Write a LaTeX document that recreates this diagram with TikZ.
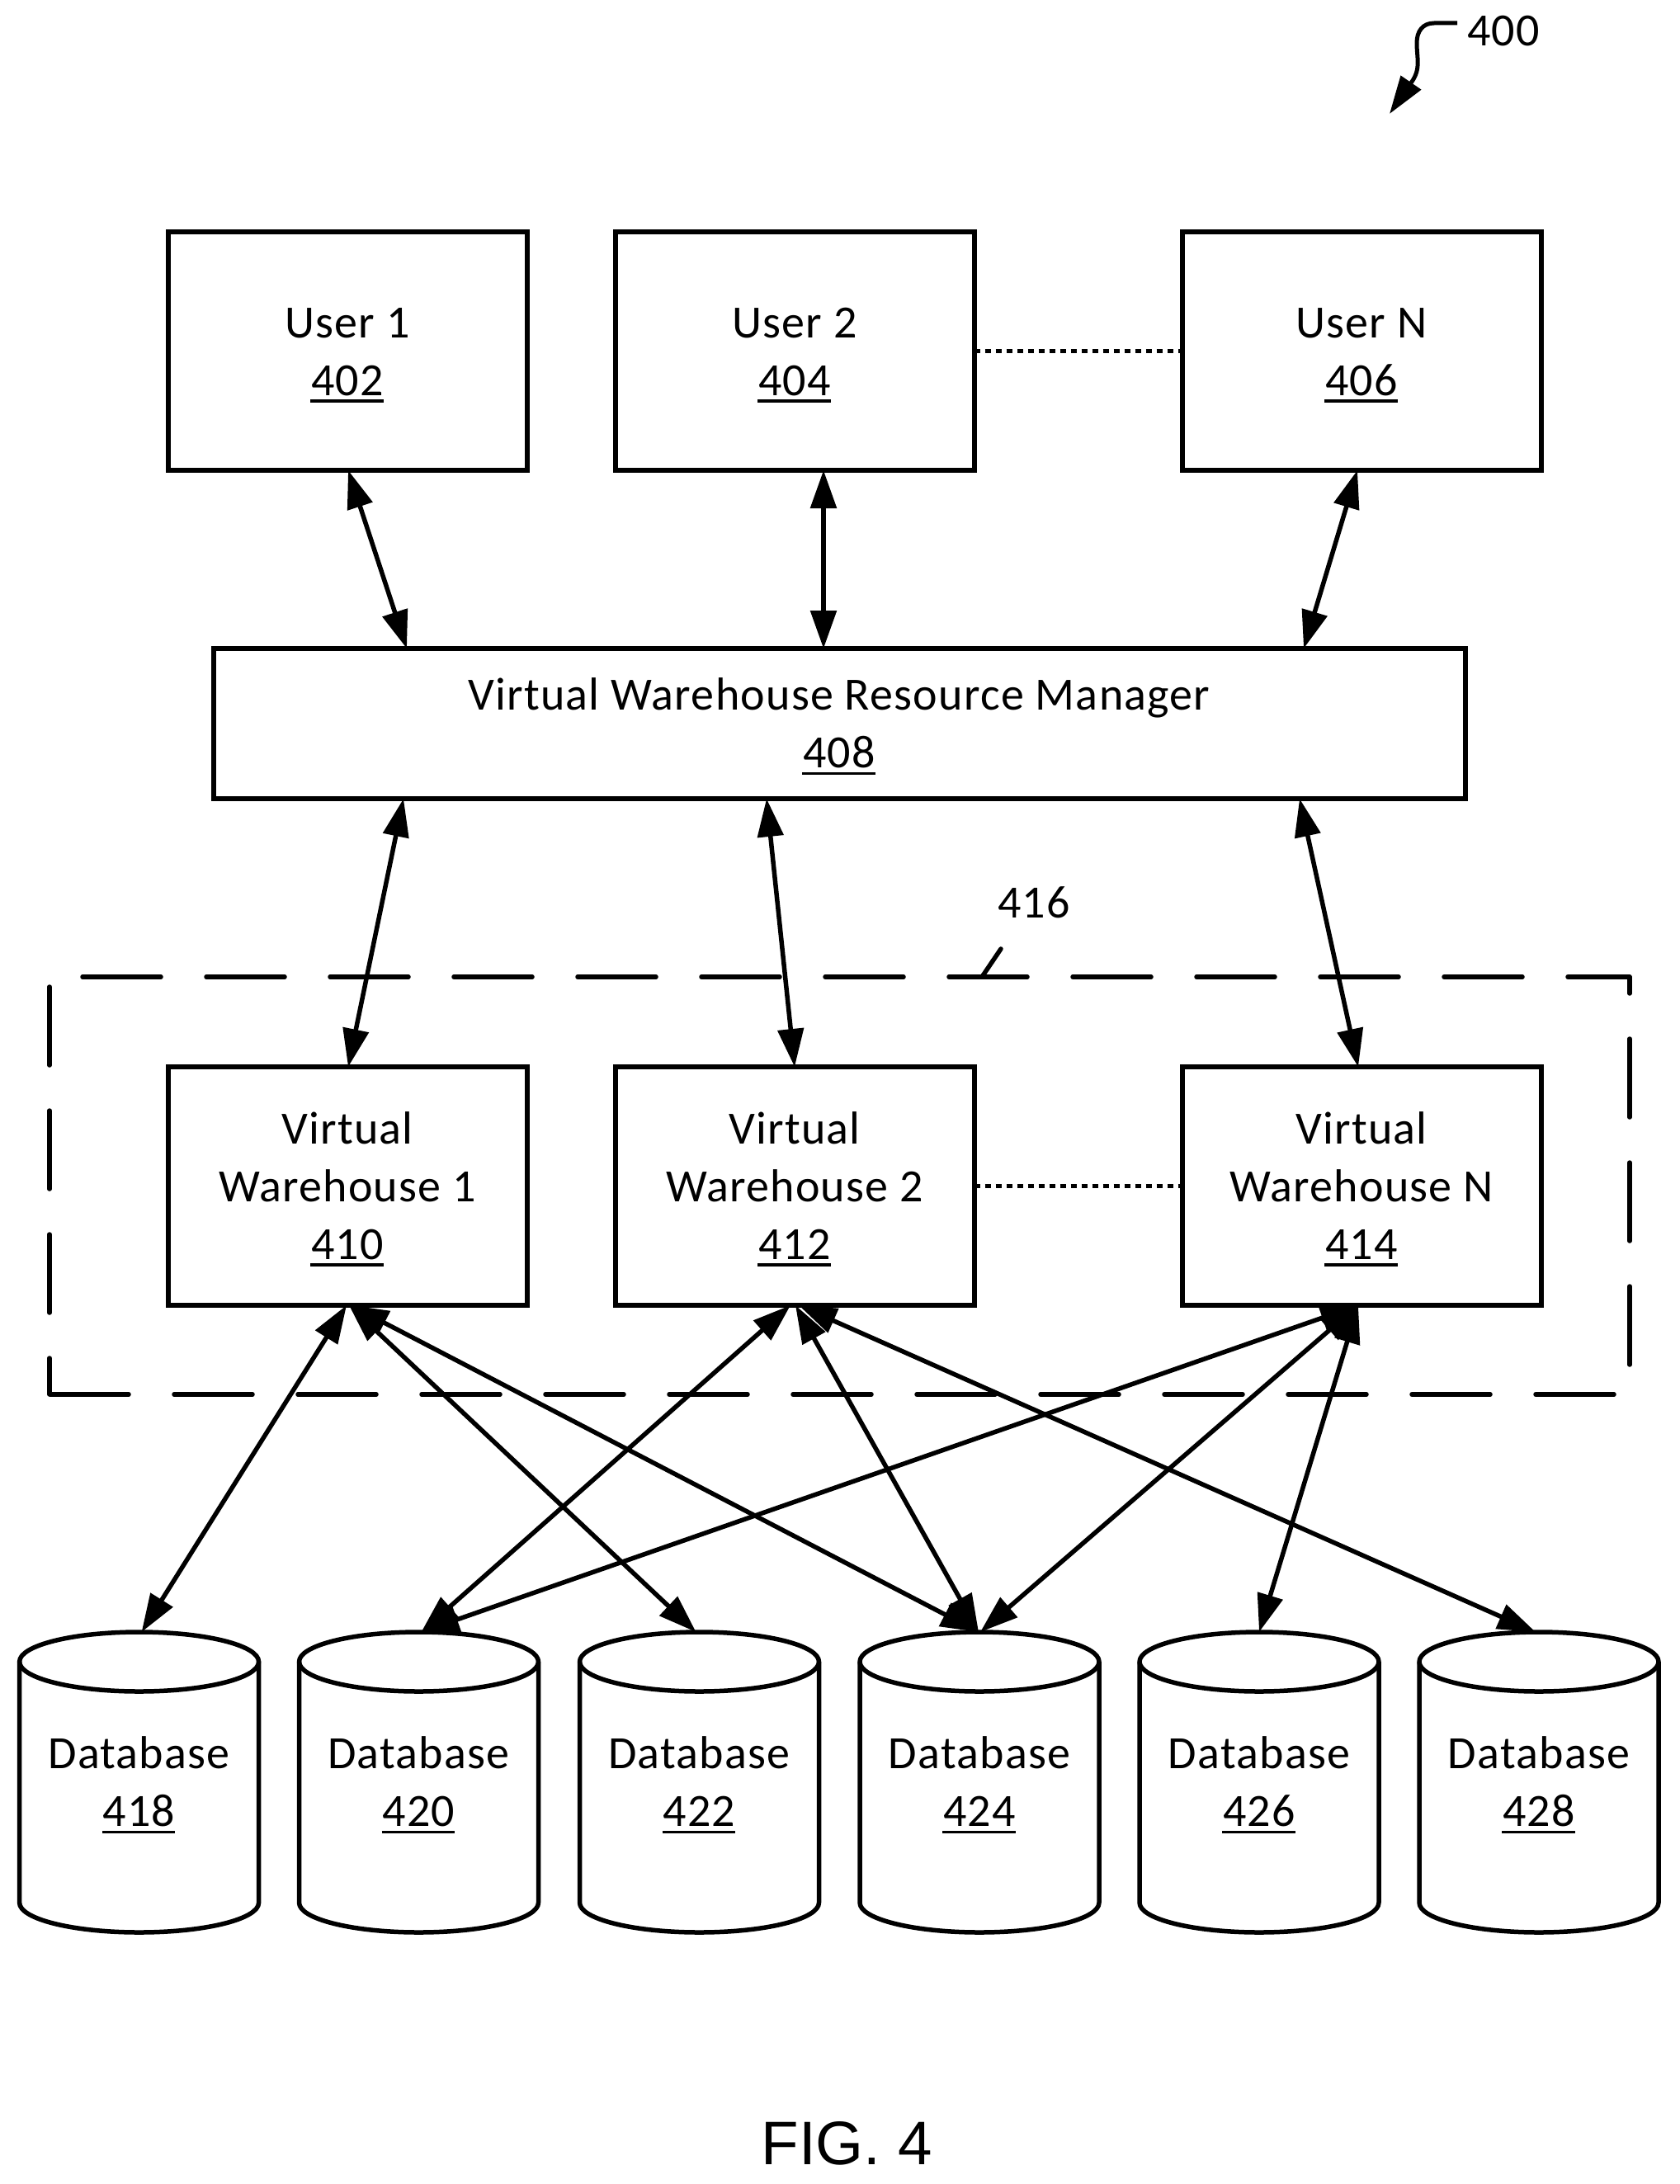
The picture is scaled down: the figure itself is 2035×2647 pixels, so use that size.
\documentclass[tikz,border=0pt]{standalone}
\usepackage{fontspec}
\setmainfont{Carlito}[LetterSpace=2.2]
\newfontfamily\figfont{Liberation Sans}
\usetikzlibrary{arrows.meta}
\newcommand\firstline{\rule{0pt}{47pt}}
\newcommand\unum[1]{\setbox0=\hbox{#1}\rlap{\hspace{-1pt}\rule[-8.5pt]{\dimexpr\wd0+1pt\relax}{3.5pt}}\box0\rule[-10pt]{0pt}{10pt}}
\tikzset{
  x=1pt,y=-1pt,
  every node/.style={font=\fontsize{56}{70}\selectfont,inner sep=0pt,outer sep=0pt,align=center},
  box/.style={draw,line width=6pt,rectangle,minimum width=435pt,minimum height=289pt},
  mgr/.style={draw,line width=6pt,rectangle,minimum width=1517pt,minimum height=182pt},
  dbnode/.style={rectangle,minimum width=290pt,minimum height=364pt},
  cyl/.style={line width=5.5pt,line join=round},
  head/.style={Stealth[length=46pt,width=31pt,inset=0pt]},
  link/.style={line width=5.5pt,{Stealth[length=46pt,width=31pt,inset=0pt]}-{Stealth[length=46pt,width=31pt,inset=0pt]}},
  dotline/.style={line width=5pt,dash pattern=on 7pt off 6pt},
  groupbox/.style={line width=5.5pt,line cap=round,line join=round,dash pattern=on 95pt off 55pt},
  thinlead/.style={line width=5.5pt,line cap=round}
}
\begin{document}
\begin{tikzpicture}
\useasboundingbox (0,0) rectangle (2035,2647);

\node[box] (u1) at (421,425.5) {\firstline User 1\\\unum{402}};
\node[box] (u2) at (963,425.5) {\firstline User 2\\\unum{404}};
\node[box] (uN) at (1650,425.5) {\firstline User N\\\unum{406}};
\node[mgr] (m) at (1017,877) {\firstline Virtual Warehouse Resource Manager\\\unum{408}};

\node[box] (v1) at (421,1437.5) {\firstline Virtual\\Warehouse 1\\\unum{410}};
\node[box] (v2) at (963,1437.5) {\firstline Virtual\\Warehouse 2\\\unum{412}};
\node[box] (vN) at (1650,1437.5) {\firstline Virtual\\Warehouse N\\\unum{414}};

\draw[groupbox] (100,1184) -- (1975,1184) -- (1975,1690) -- (60,1690);
\draw[groupbox,dash phase=51pt] (60,1690) -- (60,1184) -- (100,1184);
\node (l416) at (1253,1094) {416};
\coordinate (t416) at (1190,1184);
\coordinate (t416b) at (1213,1150);
\draw[thinlead] (t416) -- (t416b);

\foreach \num/\cx in {418/168.6,420/507.5,422/847.5,424/1187,426/1526,428/1865}{
  \node[dbnode] (d\num) at (\cx,2160) {\firstline Database\\\unum{\num}};
  \draw[cyl] ([yshift=-36pt]d\num.north west)
     arc[start angle=180,end angle=0,x radius=145pt,y radius=36pt]
     -- ([yshift=36pt]d\num.south east)
     arc[start angle=0,end angle=-180,x radius=145pt,y radius=36pt]
     -- cycle;
  \draw[cyl] ([yshift=-36pt]d\num.north west)
     arc[start angle=180,end angle=360,x radius=145pt,y radius=36pt];
}

\draw[dotline] (u2.east) -- (uN.west);
\draw[dotline] (v2.east) -- (vN.west);

\draw[link] ([xshift=1pt]u1.south) -- ([xshift=-524pt]m.north);
\draw[link] ([xshift=35pt]u2.south) -- ([xshift=-19pt]m.north);
\draw[link] ([xshift=-5pt]uN.south) -- ([xshift=563pt]m.north);

\draw[link] ([xshift=-528pt]m.south) -- ([xshift=1pt]v1.north);
\draw[link] ([xshift=-88pt]m.south) -- (v2.north);
\draw[link] ([xshift=558pt]m.south) -- ([xshift=-4pt]vN.north);

\draw[link] ([xshift=-1pt]v1.south) -- ([xshift=3pt]d418.north);
\draw[link] ([xshift=2pt]v1.south) -- ([xshift=-4pt]d422.north);
\draw[link] ([xshift=4pt]v1.south) -- ([xshift=-1pt]d424.north);
\draw[link] ([xshift=-5pt]v2.south) -- ([xshift=3pt]d420.north);
\draw[link] ([xshift=1pt]v2.south) -- ([xshift=-1pt]d424.north);
\draw[link] ([xshift=5pt]v2.south) -- ([xshift=-4pt]d428.north);
\draw[link] ([xshift=-4pt]vN.south) -- ([xshift=3pt]d420.north);
\draw[link] ([xshift=-4pt]vN.south) -- ([xshift=1pt]d424.north);
\draw[link] ([xshift=-4pt]vN.south) -- (d426.north);

\node (l400) at (1822,38) {400};
\coordinate (s400) at (1766,28);
\coordinate (e400) at (1684,138);
\draw[line width=5pt,-{Stealth[length=46pt,width=29pt,inset=0pt]}] (s400) -- (1738,28)
  .. controls (1724,28) and (1717,38) .. (1717,52)
  .. controls (1717,72) and (1723,85) .. (1708,103) -- (e400);

\node[font=\figfont\fontsize{74.5}{80}\selectfont] (fig) at (1026,2598) {FIG. 4};
\end{tikzpicture}
\end{document}
